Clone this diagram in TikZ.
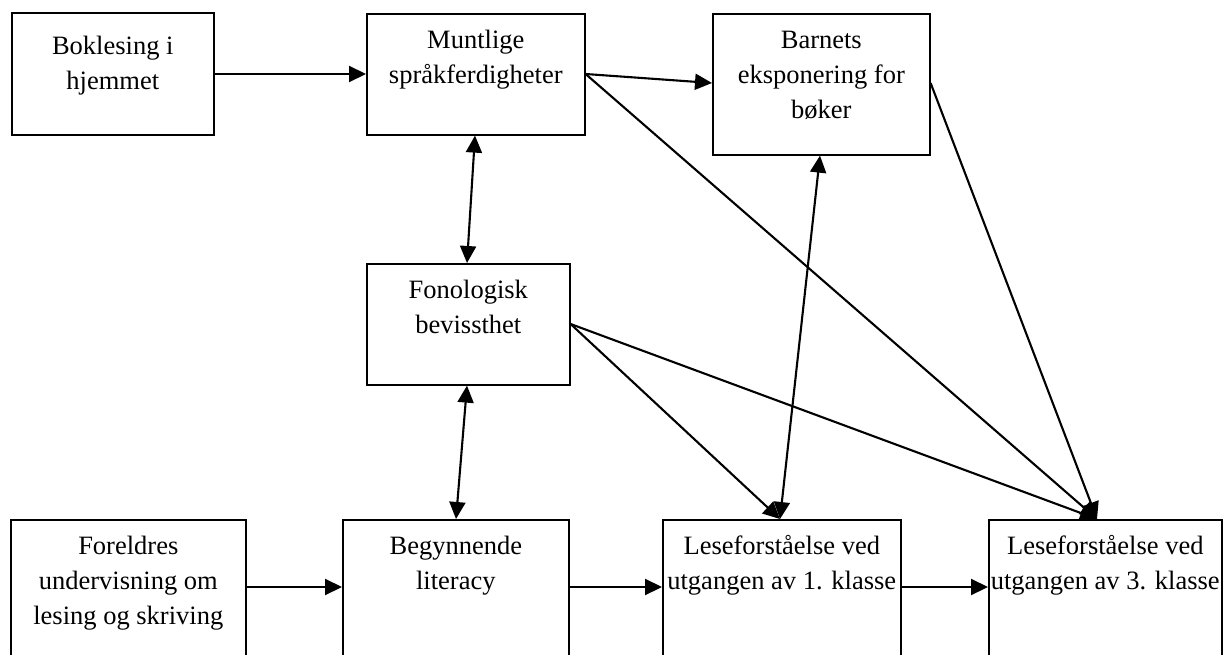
\documentclass[tikz,border=0pt]{standalone}
\usepackage{fontspec}
\setmainfont{Liberation Serif}
\usetikzlibrary{arrows.meta}
\newcommand{\fstrut}{\rule{0pt}{20pt}}
\begin{document}
\begin{tikzpicture}[x=1pt,y=-1pt,
  boxst/.style={draw, line width=1.6pt, rectangle, inner sep=0pt, anchor=north west},
  txt/.style={anchor=north, inner sep=0pt, align=center, font=\fontsize{26.5}{35}\selectfont},
  arr/.style={line width=2.1pt, -{Triangle[length=17pt,width=16pt]}},
  darr/.style={line width=2.1pt, {Triangle[length=17pt,width=16pt]}-{Triangle[length=17pt,width=16pt]}}]
\useasboundingbox (0,0) rectangle (1223,655);
\clip (0,0) rectangle (1223,655);
% boxes
\node[boxst, minimum width=202pt, minimum height=122pt] (b1) at (11,12) {};
\node[boxst, minimum width=218pt, minimum height=121pt] (b2) at (366,13) {};
\node[boxst, minimum width=217pt, minimum height=141pt] (b3) at (712,13) {};
\node[boxst, minimum width=203pt, minimum height=121pt] (f) at (366,263) {};
\node[boxst, minimum width=235pt, minimum height=160pt] (fo) at (10,519) {};
\node[boxst, minimum width=226pt, minimum height=160pt] (be) at (342,519) {};
\node[boxst, minimum width=238pt, minimum height=160pt] (l1) at (662,519) {};
\node[boxst, minimum width=233pt, minimum height=160pt] (l3) at (988,519) {};
% texts
\node[txt] (t1) at ([yshift=-22pt]b1.north) {\fstrut Boklesing i\\hjemmet};
\node[txt] (t2) at ([yshift=-15pt]b2.north) {\fstrut Muntlige\\språkferdigheter};
\node[txt] (t3) at ([yshift=-15pt]b3.north) {\fstrut Barnets\\eksponering for\\bøker};
\node[txt] (t4) at ([yshift=-15pt]f.north) {\fstrut Fonologisk\\bevissthet};
\node[txt] (t5) at ([yshift=-15pt]fo.north) {\fstrut Foreldres\\undervisning om\\lesing og skriving};
\node[txt] (t6) at ([yshift=-15pt]be.north) {\fstrut Begynnende\\literacy};
\node[txt] (t7) at ([yshift=-15pt]l1.north) {\fstrut Leseforståelse ved\\utgangen av 1. klasse};
\node[txt] (t8) at ([yshift=-15pt]l3.north) {\fstrut Leseforståelse ved\\utgangen av 3. klasse};
% connection points
\coordinate (l1top) at ([xshift=118pt]l1.north west);
\coordinate (l3top) at ([xshift=109pt]l3.north west);
\coordinate (b2out) at ([yshift=-61pt]b2.north east);
\coordinate (b3out) at ([yshift=-70pt]b3.north east);
\coordinate (fout) at ([yshift=-61pt]f.north east);
% arrows
\draw[arr] ([yshift=-62pt]b1.north east) -- ([yshift=-61pt]b2.north west);
\draw[arr] (b2out) -- ([yshift=-70pt]b3.north west);
\draw[arr] (b2out) -- (l3top);
\draw[darr] ([xshift=109pt]b2.south west) -- ([xshift=101pt]f.north west);
\draw[arr] (b3out) -- (l3top);
\draw[darr] ([xshift=108pt]b3.south west) -- (l1top);
\draw[arr] (fout) -- (l1top);
\draw[arr] (fout) -- (l3top);
\draw[darr] ([xshift=101pt]f.south west) -- ([xshift=114pt]be.north west);
\draw[arr] ([yshift=-68pt]fo.north east) -- ([yshift=-68pt]be.north west);
\draw[arr] ([yshift=-68pt]be.north east) -- ([yshift=-68pt]l1.north west);
\draw[arr] ([yshift=-68pt]l1.north east) -- ([yshift=-68pt]l3.north west);
\end{tikzpicture}
\end{document}
